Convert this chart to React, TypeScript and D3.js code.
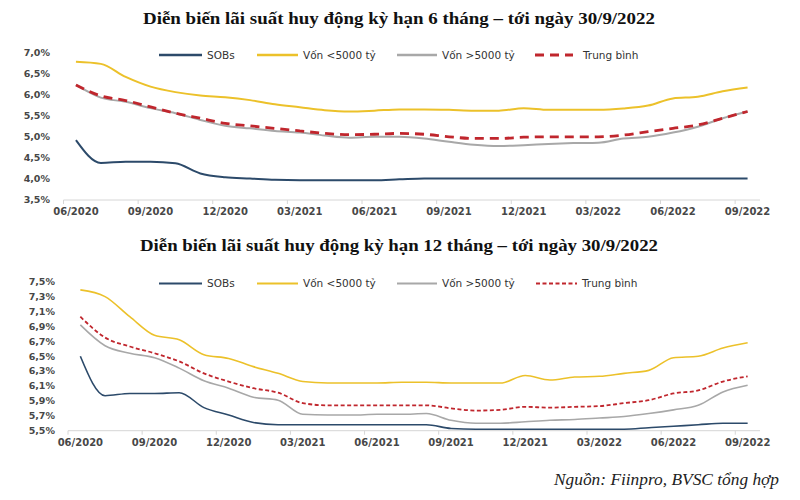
import React from "react";
import * as d3 from "d3";

const months = [
  "06/2020","07/2020","08/2020","09/2020","10/2020","11/2020","12/2020",
  "01/2021","02/2021","03/2021","04/2021","05/2021","06/2021","07/2021",
  "08/2021","09/2021","10/2021","11/2021","12/2021","01/2022","02/2022",
  "03/2022","04/2022","05/2022","06/2022","07/2022","08/2022","09/2022",
];

const seriesNames = ["SOBs", "Vốn <5000 tỷ", "Vốn >5000 tỷ", "Trung bình"];

// 6-month term
const sobs6 = [4.92,4.38,4.41,4.41,4.37,4.13,4.04,4.01,3.98,3.97,3.97,3.97,3.97,3.99,4.01,4.01,4.01,4.01,4.01,4.01,4.01,4.01,4.01,4.01,4.01,4.01,4.01,4.01];
const small6 = [6.78,6.73,6.42,6.19,6.06,5.98,5.94,5.87,5.77,5.70,5.63,5.60,5.62,5.65,5.65,5.64,5.62,5.62,5.68,5.64,5.64,5.64,5.67,5.74,5.91,5.95,6.08,6.17];
const large6 = [6.23,5.93,5.83,5.68,5.56,5.40,5.26,5.20,5.14,5.10,5.03,4.98,5.00,5.00,4.96,4.88,4.81,4.78,4.80,4.83,4.85,4.86,4.96,5.00,5.10,5.24,5.44,5.60];
const avg6 = [6.23,5.97,5.86,5.71,5.56,5.44,5.32,5.26,5.20,5.14,5.08,5.05,5.06,5.08,5.06,5.00,4.96,4.96,4.99,5.00,5.00,5.00,5.04,5.12,5.20,5.28,5.44,5.60];
const yTicks6 = [3.5,4.0,4.5,5.0,5.5,6.0,6.5,7.0];

// 12-month term
const sobs12 = [6.50,5.97,6.00,6.00,6.01,5.81,5.71,5.61,5.58,5.58,5.58,5.58,5.58,5.58,5.58,5.53,5.52,5.52,5.52,5.52,5.52,5.52,5.52,5.54,5.56,5.58,5.60,5.60];
const small12 = [7.39,7.30,7.03,6.78,6.72,6.52,6.47,6.36,6.27,6.16,6.14,6.14,6.14,6.15,6.15,6.14,6.14,6.14,6.24,6.18,6.22,6.23,6.27,6.31,6.48,6.50,6.61,6.68];
const large12 = [6.92,6.64,6.54,6.48,6.34,6.17,6.07,5.95,5.91,5.72,5.71,5.71,5.72,5.72,5.73,5.64,5.60,5.60,5.62,5.64,5.65,5.67,5.69,5.73,5.78,5.84,6.02,6.11];
const avg12 = [7.03,6.75,6.63,6.54,6.43,6.27,6.16,6.07,6.01,5.87,5.84,5.84,5.84,5.84,5.84,5.80,5.77,5.78,5.82,5.81,5.82,5.83,5.87,5.91,6.00,6.04,6.16,6.23];
const yTicks12 = [5.5,5.7,5.9,6.1,6.3,6.5,6.7,6.9,7.1,7.3,7.5];

const title6 = "Diễn biến lãi suất huy động kỳ hạn 6 tháng – tới ngày 30/9/2022";
const title12 = "Diễn biến lãi suất huy động kỳ hạn 12 tháng – tới ngày 30/9/2022";
const sourceText = "Nguồn: Fiinpro, BVSC tổng hợp";

const COLORS = ["#2c4a6a", "#ecc12a", "#a8a8a8", "#c0262d"];
const AXIS_FONT = "'DejaVu Sans', Verdana, sans-serif";
const SERIF = "'Liberation Serif', 'Times New Roman', serif";

type PanelProps = {
  series: number[][];
  yTicks: number[];
  yDomain: [number, number];
  yRange: [number, number];
  xRange: [number, number];
  yLabelRight: number;
  legendY: number;
  legendRedX: [number, number, number];
  dash: string;
  dashWidth: number;
  lineWidth: number;
};

function Panel(p: PanelProps) {
  const x = d3.scaleBand<string>().domain(months).range(p.xRange).paddingInner(0).paddingOuter(0);
  const cx = (i: number) => (x(months[i]) as number) + x.bandwidth() / 2;
  const y = d3.scaleLinear().domain(p.yDomain).range(p.yRange);
  const line = d3
    .line<number>()
    .x((_, i) => cx(i))
    .y((v) => y(v))
    .curve(d3.curveMonotoneX);
  const axisY = p.yRange[0];
  const legendItems = [
    { x1: 159, x2: 202, tx: 207 },
    { x1: 257, x2: 298, tx: 303 },
    { x1: 397, x2: 437, tx: 442 },
    { x1: p.legendRedX[0], x2: p.legendRedX[1], tx: p.legendRedX[2] },
  ];
  return (
    <g>
      <line x1={p.xRange[0]} x2={p.xRange[1]} y1={axisY} y2={axisY} stroke="#d6d6d6" strokeWidth={1} />
      {months.map((m, i) =>
        i % 3 === 0 ? (
          <g key={m}>
            <line
              x1={x(m) as number}
              x2={x(m) as number}
              y1={axisY}
              y2={axisY + 4}
              stroke="#d6d6d6"
            />
            <text
              x={cx(i)}
              y={axisY + 15}
              textAnchor="middle"
              fontFamily={AXIS_FONT}
              fontWeight="bold"
              fontSize={10}
              fill="#474747"
            >
              {m}
            </text>
          </g>
        ) : null
      )}
      {p.yTicks.map((t) => (
        <text
          key={t}
          x={p.yLabelRight}
          y={y(t)}
          dy="0.35em"
          textAnchor="end"
          fontFamily={AXIS_FONT}
          fontWeight="bold"
          fontSize={9.5}
          fill="#474747"
        >
          {t.toFixed(1).replace(".", ",") + "%"}
        </text>
      ))}
      {p.series.map((s, k) => (
        <path
          key={k}
          d={line(s) || ""}
          fill="none"
          stroke={COLORS[k]}
          strokeWidth={k === 3 ? p.dashWidth : p.lineWidth}
          strokeDasharray={k === 3 ? p.dash : undefined}
        />
      ))}
      {legendItems.map((it, k) => (
        <g key={k}>
          <line
            x1={it.x1}
            x2={it.x2}
            y1={p.legendY}
            y2={p.legendY}
            stroke={COLORS[k]}
            strokeWidth={k === 3 ? p.dashWidth : p.lineWidth + 0.5}
            strokeDasharray={k === 3 ? p.dash : undefined}
          />
          <text
            x={it.tx}
            y={p.legendY}
            dy="0.35em"
            fontFamily={AXIS_FONT}
            fontSize={10.5}
            fill="#333"
          >
            {seriesNames[k]}
          </text>
        </g>
      ))}
    </g>
  );
}

export default function App() {
  return (
    <svg
      width={800}
      height={500}
      viewBox="0 0 800 500"
      style={{ position: "absolute", left: 0, top: 0, background: "#fff" }}
    >
      <rect x={0} y={0} width={800} height={500} fill="#fff" />
      <text
        x={143}
        y={23.5}
        textLength={512}
        lengthAdjust="spacingAndGlyphs"
        fontFamily={SERIF}
        fontWeight="bold"
        fontSize={16.5}
        fill="#111"
      >
        {title6}
      </text>
      <Panel
        series={[sobs6, small6, large6, avg6]}
        yTicks={yTicks6}
        yDomain={[3.5, 7.0]}
        yRange={[200, 52.5]}
        xRange={[63.5, 760]}
        yLabelRight={50}
        legendY={55}
        legendRedX={[535, 573, 583]}
        dash="9,6"
        dashWidth={2.8}
        lineWidth={2}
      />
      <text
        x={140}
        y={250.5}
        textLength={518}
        lengthAdjust="spacingAndGlyphs"
        fontFamily={SERIF}
        fontWeight="bold"
        fontSize={16.5}
        fill="#111"
      >
        {title12}
      </text>
      <Panel
        series={[sobs12, small12, large12, avg12]}
        yTicks={yTicks12}
        yDomain={[5.5, 7.5]}
        yRange={[430.7, 281.7]}
        xRange={[68, 760]}
        yLabelRight={55}
        legendY={283.5}
        legendRedX={[536, 577, 582]}
        dash="4,2.5"
        dashWidth={1.8}
        lineWidth={1.6}
      />
      <text
        x={554}
        y={485}
        textLength={225}
        lengthAdjust="spacingAndGlyphs"
        fontFamily={SERIF}
        fontStyle="italic"
        fontSize={16}
        fill="#222"
      >
        {sourceText}
      </text>
    </svg>
  );
}
